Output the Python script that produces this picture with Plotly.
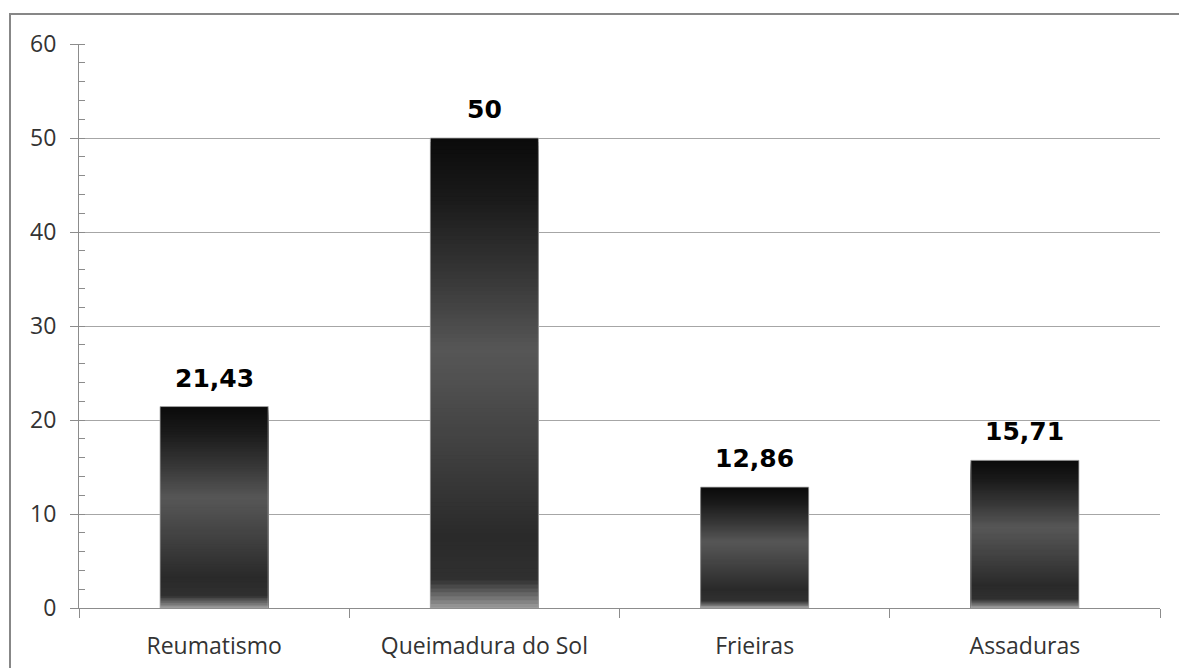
import plotly.graph_objects as go

# Data
categories = ["Reumatismo", "Queimadura do Sol", "Frieiras", "Assaduras"]
values = [21.43, 50, 12.86, 15.71]
y_ticks = [0, 10, 20, 30, 40, 50, 60]

# Vertical gray gradient used to fill every bar (position from top -> gray level)
grad_stops = [
    (0.00, 10), (0.13, 26), (0.30, 56), (0.45, 86), (0.52, 80),
    (0.66, 64), (0.85, 42), (0.94, 48), (0.97, 100), (1.00, 155),
]


def gray_at(t):
    for (t0, g0), (t1, g1) in zip(grad_stops[:-1], grad_stops[1:]):
        if t0 <= t <= t1:
            g = g0 + (g1 - g0) * (t - t0) / (t1 - t0)
            g = int(round(g))
            return f"rgb({g},{g},{g})"
    g = grad_stops[-1][1]
    return f"rgb({g},{g},{g})"


def fmt(v):
    s = f"{v:.2f}".rstrip("0").rstrip(".")
    return s.replace(".", ",")


fig = go.Figure()

# Layered bars: each layer is shorter than the one before and painted on top,
# so together they render a top-to-bottom gradient on each column.
N = 120
for k in range(N):
    frac = 1 - k / N
    fig.add_trace(go.Bar(
        x=categories,
        y=[v * frac for v in values],
        width=0.4,
        marker=dict(color=gray_at((k + 0.5) / N), line=dict(width=0)),
        hoverinfo="skip",
        showlegend=False,
    ))

# Thin light outline around each bar
fig.add_trace(go.Bar(
    x=categories, y=values, width=0.4,
    marker=dict(color="rgba(0,0,0,0)", line=dict(color="rgba(170,170,170,0.8)", width=1)),
    hoverinfo="skip", showlegend=False,
))

# Value labels above the bars
for c, v in zip(categories, values):
    fig.add_annotation(
        x=c, y=v, text=fmt(v), showarrow=False,
        yanchor="bottom", yshift=12,
        font=dict(family="DejaVu Sans", size=25, color="#000000", weight="bold"),
    )

# Outer chart frame
fig.add_shape(
    type="rect", xref="paper", yref="paper",
    x0=-69 / 1081, x1=1.2, y0=-0.3, y1=(608 - 14) / 564,
    line=dict(color="#878787", width=2), fillcolor="rgba(0,0,0,0)",
    layer="below",
)

fig.update_layout(
    width=1179, height=668,
    margin=dict(l=79, r=19, t=44, b=60),
    paper_bgcolor="white", plot_bgcolor="white",
    barmode="overlay",
    bargap=0.6,
    font=dict(family="Open Sans", size=23, color="#333333"),
)

fig.update_xaxes(
    type="category", automargin=False,
    showline=True, linecolor="#8c8c8c", linewidth=1,
    ticks="outside", tickson="boundaries", ticklen=9, tickcolor="#8c8c8c",
    showgrid=False,
    ticklabelstandoff=17,
    tickfont=dict(family="Open Sans", size=23, color="#333333"),
)

fig.update_yaxes(
    range=[0, 60], tickvals=y_ticks, automargin=False,
    showline=True, linecolor="#8c8c8c", linewidth=1,
    ticks="outside", ticklen=8, tickcolor="#8c8c8c",
    showgrid=True, gridcolor="#a6a6a6", gridwidth=1,
    zeroline=False,
    minor=dict(dtick=2, ticks="inside", ticklen=6, tickcolor="#8c8c8c", showgrid=False),
    ticklabelstandoff=9,
    tickfont=dict(family="Open Sans", size=23, color="#333333"),
)

fig.write_html("out.html")
